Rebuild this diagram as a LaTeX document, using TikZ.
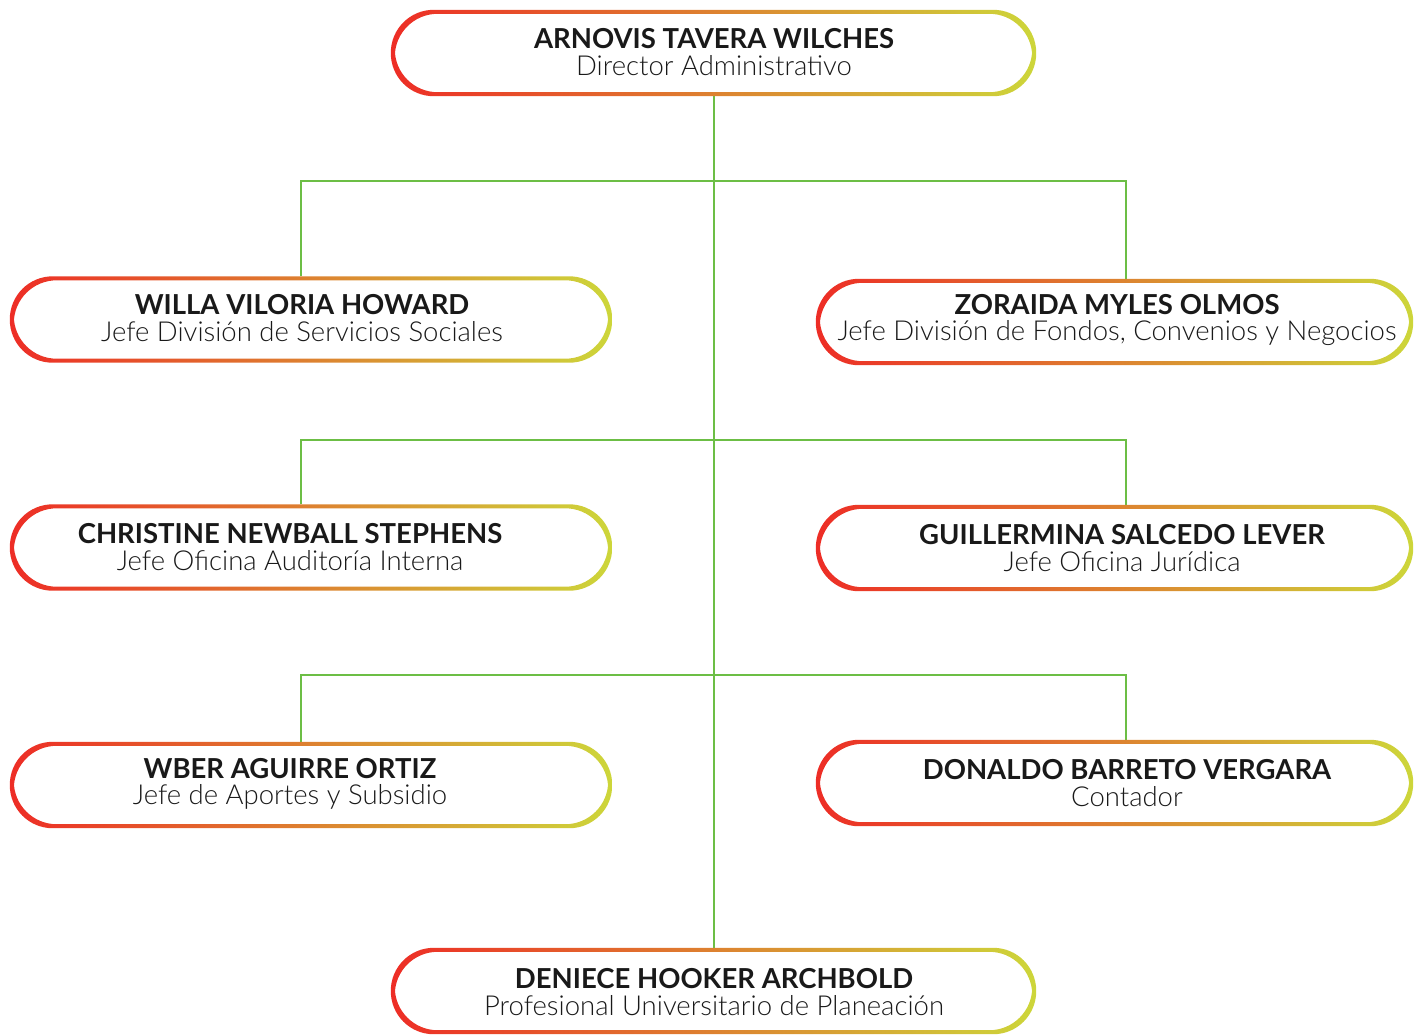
\documentclass[tikz,border=0pt]{standalone}
\usepackage{fontspec}
\setmainfont{Lato}
\newfontfamily\delgada{Lato Light}
\usetikzlibrary{positioning,calc}
\definecolor{rojo}{RGB}{237,45,38}
\definecolor{naranja}{RGB}{232,140,52}
\definecolor{lima}{RGB}{205,214,58}
\definecolor{verde}{RGB}{108,190,69}
\newcommand{\nombre}[1]{{\bfseries #1}}
\newcommand{\cargo}[1]{{\delgada #1}}
\newcommand{\anillo}[1]{\shade[left color=rojo, middle color=naranja, right color=lima, even odd rule, rounded corners=42.9pt] (#1.south west) rectangle (#1.north east) ([shift={(4pt,4pt)}]#1.south west) rectangle ([shift={(-4pt,-4pt)}]#1.north east);}

\begin{document}
\begin{tikzpicture}[x=1pt,y=-1pt,
  caja/.style={rectangle, minimum height=86, minimum width=#1, inner sep=0},
  rotulo/.style={align=center, inner sep=0, text=black!90, font=\fontsize{27.5}{26.5}\selectfont},
  linea/.style={draw=verde, line width=1.6pt}]
\useasboundingbox (0,0) rectangle (1424,1034);
% cajas
\node[caja=645] (arnovis) at (713.5,53) {};
\node[caja=602] (willa) at (311,319.5) {};
\node[caja=597] (zoraida) at (1114.5,322) {};
\node[caja=602] (christine) at (311,547.5) {};
\node[caja=597] (guillermina) at (1114.5,548) {};
\node[caja=602] (wber) at (311,785) {};
\node[caja=597] (donaldo) at (1114.5,783) {};
\node[caja=645] (deniece) at (713.5,991) {};
% columnas y buses
\coordinate (izq) at (301,0);
\coordinate (der) at (1126,0);
\coordinate (bus1) at (714,181);
\coordinate (bus2) at (714,440);
\coordinate (bus3) at (714,675);
\path [linea] (arnovis.south -| bus1) -- (deniece.north -| bus1);
\path [linea] (willa.north -| izq) |- (bus1) -| (zoraida.north -| der);
\path [linea] (christine.north -| izq) |- (bus2) -| (guillermina.north -| der);
\path [linea] (wber.north -| izq) |- (bus3) -| (donaldo.north -| der);
% bordes
\anillo{arnovis}
\anillo{willa}
\anillo{zoraida}
\anillo{christine}
\anillo{guillermina}
\anillo{wber}
\anillo{donaldo}
\anillo{deniece}
% textos
\node[rotulo] (arnovis-t) at (714,52) {\nombre{ARNOVIS TAVERA WILCHES}\\\cargo{Director Administrativo}};
\node[rotulo] (willa-t) at (302,318) {\nombre{WILLA VILORIA HOWARD}\\\cargo{Jefe División de Servicios Sociales}};
\node[rotulo] (zoraida-t) at (1117,320) {\nombre{ZORAIDA MYLES OLMOS}\\\cargo{Jefe División de Fondos, Convenios y Negocios}};
\node[rotulo] (christine-t) at (290,547) {\nombre{CHRISTINE NEWBALL STEPHENS}\\\cargo{Jefe Oficina Auditoría Interna}};
\node[rotulo] (guillermina-t) at (1122,548) {\nombre{GUILLERMINA SALCEDO LEVER}\\\cargo{Jefe Oficina Jurídica}};
\node[rotulo] (wber-t) at (290,784) {\nombre{WBER AGUIRRE ORTIZ}\\\cargo{Jefe de Aportes y Subsidio}};
\node[rotulo] (donaldo-t) at (1127,783) {\nombre{DONALDO BARRETO VERGARA}\\\cargo{Contador}};
\node[rotulo] (deniece-t) at (714,992) {\nombre{DENIECE HOOKER ARCHBOLD}\\\cargo{Profesional Universitario de Planeación}};
\end{tikzpicture}
\end{document}
